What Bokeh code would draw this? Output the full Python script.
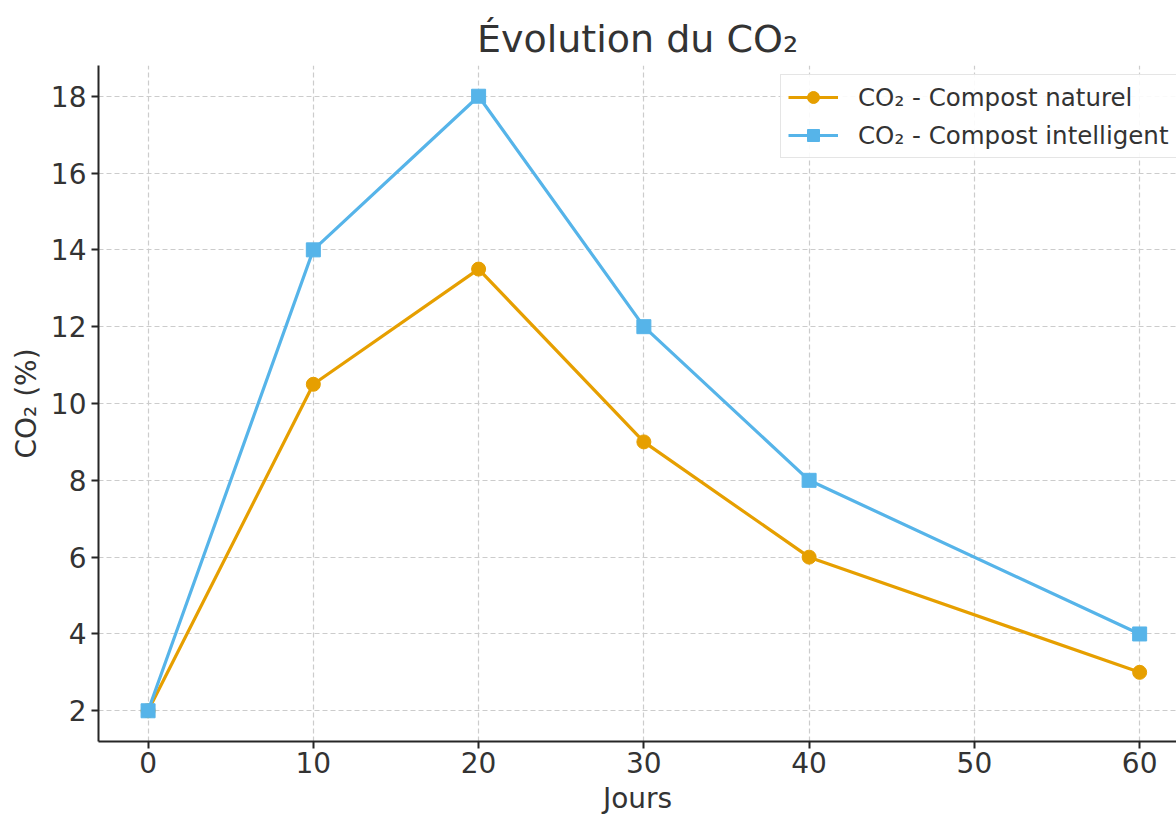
from bokeh.plotting import figure
from bokeh.models import Range1d, FixedTicker, Legend, LegendItem
from bokeh.embed import file_html
from bokeh.resources import INLINE

jours = [0, 10, 20, 30, 40, 60]
co2_naturel = [2, 10.5, 13.5, 9, 6, 3]
co2_intelligent = [2, 14, 18, 12, 8, 4]
x_ticks = [0, 10, 20, 30, 40, 50, 60]
y_ticks = [2, 4, 6, 8, 10, 12, 14, 16, 18]

title_text = "Évolution du CO₂"
x_label = "Jours"
y_label = "CO₂ (%)"
label_naturel = "CO₂ - Compost naturel"
label_intelligent = "CO₂ - Compost intelligent"

ORANGE = "#E69F00"
BLUE = "#56B4E9"
TXT = "#333333"
FONT = "DejaVu Sans"

p = figure(width=1176, height=817, output_backend="svg", toolbar_location=None,
           x_range=Range1d(-3, 62.23), y_range=Range1d(1.2, 18.8),
           min_border_left=98, min_border_right=0, min_border_top=65, min_border_bottom=75)
p.background_fill_color = "white"
p.border_fill_color = "white"
p.outline_line_color = None

p.title.text = title_text
p.title.align = "center"
p.title.text_font = FONT
p.title.text_font_size = "38px"
p.title.text_font_style = "normal"
p.title.text_color = TXT
p.title.offset = 6

for ax in (p.xaxis[0], p.yaxis[0]):
    ax.axis_line_color = "#262626"
    ax.axis_line_width = 2
    ax.major_tick_line_color = "#262626"
    ax.major_tick_line_width = 2
    ax.major_tick_out = 7
    ax.major_tick_in = 0
    ax.minor_tick_out = 0
    ax.minor_tick_in = 0
    ax.major_label_text_font = FONT
    ax.major_label_text_font_size = "28px"
    ax.major_label_text_color = TXT
    ax.axis_label_text_font = FONT
    ax.axis_label_text_font_size = "28px"
    ax.axis_label_text_font_style = "normal"
    ax.axis_label_text_color = TXT

p.xaxis[0].ticker = FixedTicker(ticks=x_ticks)
p.yaxis[0].ticker = FixedTicker(ticks=y_ticks)
p.xaxis[0].axis_label = x_label
p.yaxis[0].axis_label = y_label
p.xaxis[0].major_label_standoff = 3
p.yaxis[0].major_label_standoff = 5
p.xaxis[0].axis_label_standoff = 6
p.yaxis[0].axis_label_standoff = 5

for g in (p.xgrid[0], p.ygrid[0]):
    g.grid_line_color = "#cccccc"
    g.grid_line_dash = "5 3"
    g.grid_line_width = 1.2

r1 = p.line(jours, co2_naturel, line_color=ORANGE, line_width=3.2)
m1 = p.scatter(jours, co2_naturel, marker="circle", size=14, fill_color=ORANGE, line_color=ORANGE)
r2 = p.line(jours, co2_intelligent, line_color=BLUE, line_width=3.2)
m2 = p.scatter(jours, co2_intelligent, marker="square", size=14, fill_color=BLUE, line_color=BLUE)

legend = Legend(items=[LegendItem(label=label_naturel, renderers=[r1, m1]),
                       LegendItem(label=label_intelligent, renderers=[r2, m2])],
                location=(682, 583))
legend.label_text_font = FONT
legend.label_text_font_size = "24.5px"
legend.label_text_color = TXT
legend.glyph_width = 50
legend.glyph_height = 30
legend.label_standoff = 20
legend.spacing = 8
legend.padding = 7
legend.margin = 0
legend.border_line_color = "#cccccc"
legend.border_line_width = 1.5
legend.background_fill_alpha = 0.9
p.add_layout(legend)

open("out.html", "w").write(file_html(p, INLINE))
